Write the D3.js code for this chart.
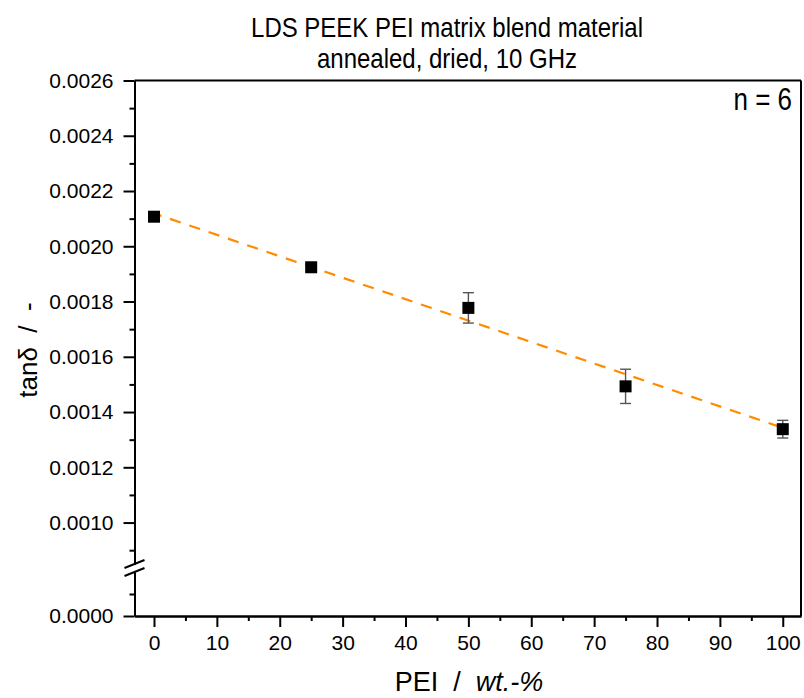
<!DOCTYPE html>
<html>
<head>
<meta charset="utf-8">
<script src="https://cdn.jsdelivr.net/npm/d3@7"></script>
<style>
  body { margin: 0; background: #fff; }
  svg { display: block; font-family: "Liberation Sans", Arial, sans-serif; }
  .axis path, .axis line { stroke: #000; stroke-width: 2; }
  .axis text { font-size: 21px; fill: #000; }
</style>
</head>
<body>
<div class="chart"></div>
<script>
// measured values (tan delta vs PEI content)
const peiWt = [0, 25, 50, 75, 100];
const tanDelta = [0.002107, 0.001924, 0.001777, 0.001493, 0.001338];
const tanDeltaErr = [0.000012, 0.000012, 0.000055, 0.000062, 0.000032];
// linear fit, end points
const fitPei = [0, 100];
const fitTanDelta = [0.002119, 0.001343];

const xMajorTicks = [0, 10, 20, 30, 40, 50, 60, 70, 80, 90, 100];
const xMinorTicks = [5, 15, 25, 35, 45, 55, 65, 75, 85, 95];
const yUpperMajor = [0.0010, 0.0012, 0.0014, 0.0016, 0.0018, 0.0020, 0.0022, 0.0024, 0.0026];
const yUpperMinor = [0.0009, 0.0011, 0.0013, 0.0015, 0.0017, 0.0019, 0.0021, 0.0023, 0.0025];
const yLowerMajor = [0.0000];
const yLowerMinor = [0.0001];

const titleLines = ["LDS PEEK PEI matrix blend material", "annealed, dried, 10 GHz"];
const sampleNote = "n = 6";

const svgWidth = 804, svgHeight = 698;
const plotLeft = 134.5, plotRight = 801, plotTop = 80.5, plotBottom = 616;
const breakTop = 564, breakBottom = 572;

const svg = d3.select(".chart").append("svg").attr("width", svgWidth).attr("height", svgHeight);

const x = d3.scaleLinear().domain([-3.1, 102.9]).range([plotLeft, plotRight]);
const yUp = d3.scaleLinear().domain([0.00085, 0.0026]).range([breakTop, plotTop]);
const yLow = d3.scaleLinear().domain([0, 0.0002]).range([plotBottom, breakBottom]);
function y(v) { return v >= 0.00085 ? yUp(v) : yLow(v); }

const fmt = d3.format(".4f");

// frame top and right
svg.append("line").attr("x1", plotLeft).attr("x2", plotRight).attr("y1", plotTop).attr("y2", plotTop)
    .attr("stroke", "#000").attr("stroke-width", 2);
svg.append("line").attr("x1", plotRight).attr("x2", plotRight).attr("y1", plotTop).attr("y2", plotBottom)
    .attr("stroke", "#000").attr("stroke-width", 2);

// bottom axis
svg.append("g").attr("class", "axis")
    .attr("transform", "translate(0," + plotBottom + ")")
    .call(d3.axisBottom(x).tickValues(xMinorTicks).tickSize(5).tickSizeOuter(0).tickFormat(""));
svg.append("g").attr("class", "axis")
    .attr("transform", "translate(0," + plotBottom + ")")
    .call(d3.axisBottom(x).tickValues(xMajorTicks).tickSize(11).tickSizeOuter(0).tickPadding(8));

// left axis, upper part
svg.append("g").attr("class", "axis")
    .attr("transform", "translate(" + plotLeft + ",0)")
    .call(d3.axisLeft(yUp).tickValues(yUpperMinor).tickSize(5).tickSizeOuter(0).tickFormat(""));
svg.append("g").attr("class", "axis")
    .attr("transform", "translate(" + plotLeft + ",0)")
    .call(d3.axisLeft(yUp).tickValues(yUpperMajor).tickSize(11).tickSizeOuter(0).tickPadding(10).tickFormat(fmt));

// left axis, lower part
svg.append("g").attr("class", "axis")
    .attr("transform", "translate(" + plotLeft + ",0)")
    .call(d3.axisLeft(yLow).tickValues(yLowerMinor).tickSize(5).tickSizeOuter(0).tickFormat(""));
svg.append("g").attr("class", "axis")
    .attr("transform", "translate(" + plotLeft + ",0)")
    .call(d3.axisLeft(yLow).tickValues(yLowerMajor).tickSize(11).tickSizeOuter(0).tickPadding(10).tickFormat(fmt));

// break marks
[breakTop, breakBottom].forEach(function (b) {
    svg.append("line")
        .attr("x1", plotLeft - 10).attr("y1", b + 4)
        .attr("x2", plotLeft + 10).attr("y2", b - 4)
        .attr("stroke", "#000").attr("stroke-width", 2);
});

// fit line
const fitData = fitPei.map(function (d, i) { return [d, fitTanDelta[i]]; });
svg.append("path")
    .datum(fitData)
    .attr("d", d3.line().x(function (d) { return x(d[0]); }).y(function (d) { return y(d[1]); }))
    .attr("fill", "none")
    .attr("stroke", "#ff8c00")
    .attr("stroke-width", 2.2)
    .attr("stroke-dasharray", "11.3,9.1")
    .attr("stroke-dashoffset", 3.5);

// error bars
const points = peiWt.map(function (d, i) { return { x: d, y: tanDelta[i], e: tanDeltaErr[i] }; });
const err = svg.selectAll("g.err").data(points).enter().append("g").attr("class", "err")
    .attr("stroke", "#555").attr("stroke-width", 1.4);
err.append("line")
    .attr("x1", function (d) { return x(d.x); }).attr("x2", function (d) { return x(d.x); })
    .attr("y1", function (d) { return y(d.y + d.e); }).attr("y2", function (d) { return y(d.y - d.e); });
err.append("line")
    .attr("x1", function (d) { return x(d.x) - 5.5; }).attr("x2", function (d) { return x(d.x) + 5.5; })
    .attr("y1", function (d) { return y(d.y + d.e); }).attr("y2", function (d) { return y(d.y + d.e); });
err.append("line")
    .attr("x1", function (d) { return x(d.x) - 5.5; }).attr("x2", function (d) { return x(d.x) + 5.5; })
    .attr("y1", function (d) { return y(d.y - d.e); }).attr("y2", function (d) { return y(d.y - d.e); });

// markers
svg.selectAll("rect.pt").data(points).enter().append("rect")
    .attr("class", "pt")
    .attr("x", function (d) { return x(d.x) - 6; })
    .attr("y", function (d) { return y(d.y) - 6; })
    .attr("width", 12).attr("height", 12)
    .attr("fill", "#000");

// title (glyphs a bit taller than wide in the original)
svg.selectAll("text.title").data(titleLines).enter().append("text")
    .attr("class", "title")
    .attr("transform", function (d, i) { return "translate(447," + (37 + i * 31) + ") scale(1,1.18)"; })
    .attr("text-anchor", "middle")
    .style("font-size", "24px")
    .text(function (d) { return d; });

// n = 6
svg.append("text")
    .attr("transform", "translate(792,110) scale(1,1.18)")
    .attr("text-anchor", "end")
    .style("font-size", "26px")
    .text(sampleNote);

// axis titles
const xLab = svg.append("text")
    .attr("x", 469).attr("y", 691)
    .attr("text-anchor", "middle")
    .style("font-size", "27px")
    .attr("xml:space", "preserve");
xLab.append("tspan").text("PEI  /  ");
xLab.append("tspan").style("font-style", "italic").text("wt.-%");

svg.append("text")
    .attr("transform", "translate(37,350) rotate(-90)")
    .attr("text-anchor", "middle")
    .style("font-size", "26px")
    .attr("xml:space", "preserve")
    .text("tanδ  /  -");
</script>
</body>
</html>
